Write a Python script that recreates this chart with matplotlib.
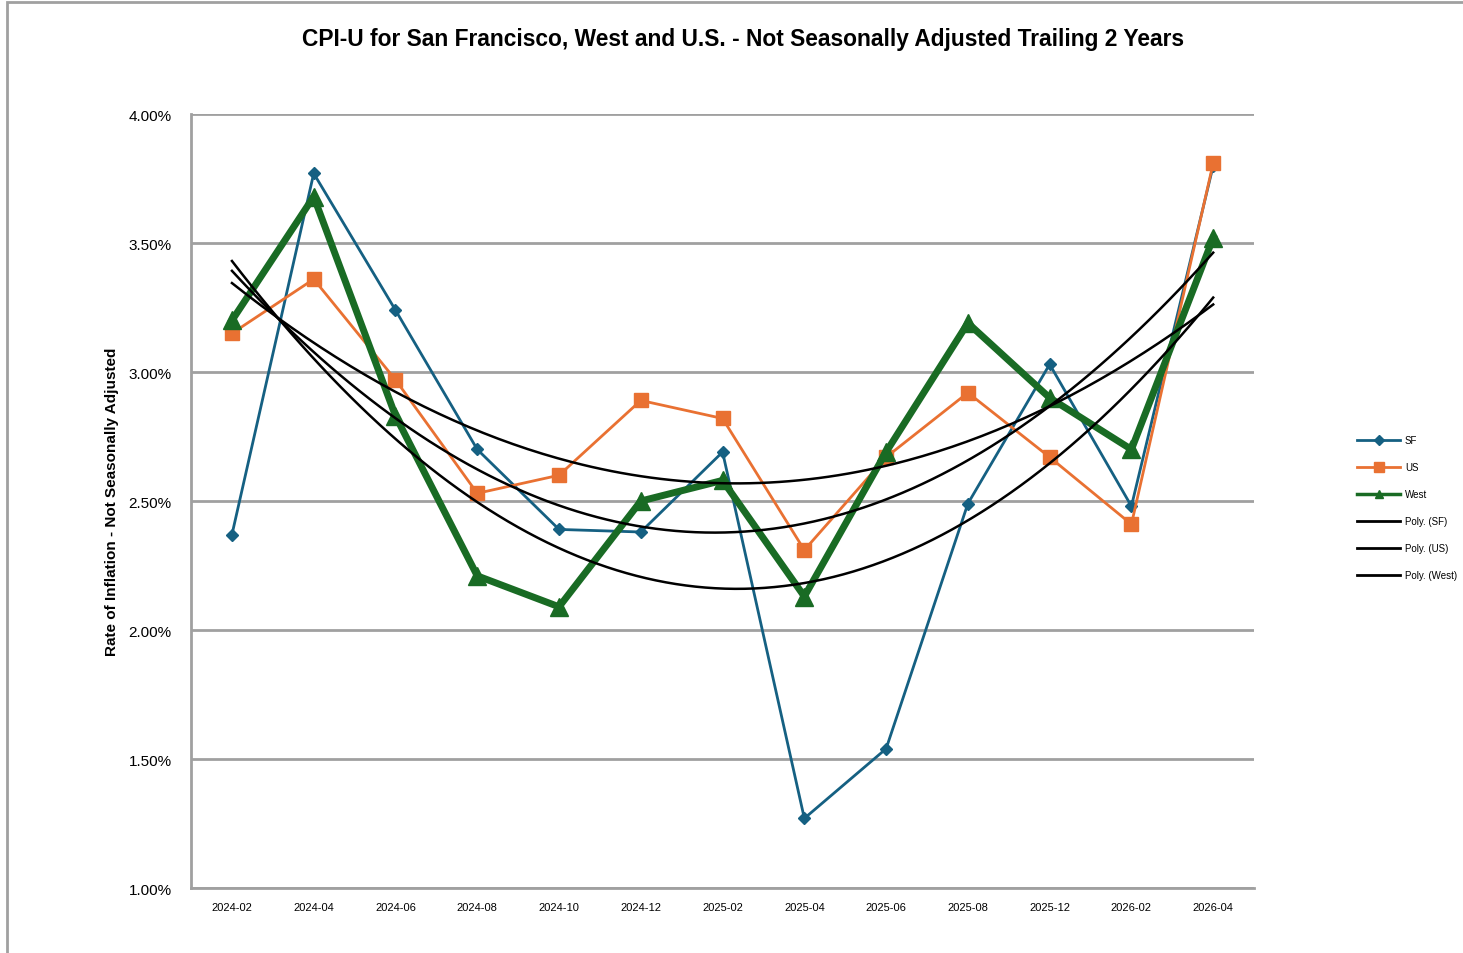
import numpy as np
import matplotlib
matplotlib.use("Agg")
import matplotlib.pyplot as plt
from matplotlib.lines import Line2D
from matplotlib.patches import Rectangle
from matplotlib.ticker import FuncFormatter

months = ["2024-02", "2024-04", "2024-06", "2024-08", "2024-10", "2024-12", "2025-02",
          "2025-04", "2025-06", "2025-08", "2025-12", "2026-02", "2026-04"]
sf = [2.37, 3.77, 3.24, 2.70, 2.39, 2.38, 2.69, 1.27, 1.54, 2.49, 3.03, 2.48, 3.80]
us = [3.15, 3.36, 2.97, 2.53, 2.60, 2.89, 2.82, 2.31, 2.67, 2.92, 2.67, 2.41, 3.81]
west = [3.20, 3.68, 2.83, 2.21, 2.09, 2.50, 2.58, 2.13, 2.69, 3.19, 2.90, 2.70, 3.52]

C_SF = "#156082"
C_US = "#E97132"
C_WEST = "#196B24"
GRID = "#A0A0A0"

plt.rcParams["font.family"] = ["Liberation Sans", "DejaVu Sans"]

fig = plt.figure(figsize=(14.63, 9.54), dpi=100)
ax = fig.add_axes([0.1306, 0.0681, 0.7266, 0.8113])

x = np.arange(len(months))

ax.plot(x, sf, color=C_SF, lw=2, marker="D", ms=6.5, zorder=3)
ax.plot(x, us, color=C_US, lw=2, marker="s", ms=9.5, zorder=4)
ax.plot(x, west, color=C_WEST, lw=5, marker="^", ms=13, zorder=5)

# polynomial (order 2) trendlines like Excel
xs = np.linspace(0, 12, 200)
for series in (sf, us, west):
    coef = np.polyfit(x, series, 2)
    ax.plot(xs, np.polyval(coef, xs), color="black", lw=1.8, zorder=6)

ax.set_xlim(-0.5, 12.5)
ax.set_ylim(1.0, 4.0)
ax.set_xticks(x)
ax.set_xticklabels(months, fontsize=8)
ax.set_yticks(np.arange(1.0, 4.01, 0.5))
ax.yaxis.set_major_formatter(FuncFormatter(lambda v, p: f"{v:.2f}%"))
ax.tick_params(axis="y", labelsize=11, length=0, pad=14)
ax.tick_params(axis="x", length=0, pad=10)
ax.grid(axis="y", color=GRID, lw=2)
ax.set_axisbelow(True)
for side in ("top", "right"):
    ax.spines[side].set_visible(False)
for side in ("left", "bottom"):
    ax.spines[side].set_color(GRID)
    ax.spines[side].set_linewidth(2)

ax.set_ylabel("Rate of Inflation - Not Seasonally Adjusted", fontsize=11,
              fontweight="bold", labelpad=7)

fig.text(0.508, 0.959, "CPI-U for San Francisco, West and U.S. - Not Seasonally Adjusted Trailing 2 Years",
         ha="center", va="center", fontsize=16.4, fontweight="bold")

handles = [
    Line2D([], [], color=C_SF, lw=2, marker="D", ms=5),
    Line2D([], [], color=C_US, lw=2, marker="s", ms=6.5),
    Line2D([], [], color=C_WEST, lw=2.5, marker="^", ms=6),
    Line2D([], [], color="black", lw=2),
    Line2D([], [], color="black", lw=2),
    Line2D([], [], color="black", lw=2),
]
labels = ["SF", "US", "West", "Poly. (SF)", "Poly. (US)", "Poly. (West)"]
fig.legend(handles, labels, loc="center left", bbox_to_anchor=(0.925, 0.467),
           frameon=False, fontsize=7, handlelength=4.4, handletextpad=0.5,
           labelspacing=1.75, borderaxespad=0)

# chart area border (cropped on right and bottom)
fig.patches.append(Rectangle((0.0045, -0.05), 1.1, 1.047, transform=fig.transFigure,
                             fill=False, edgecolor="#A0A0A0", lw=2))

fig.savefig("out.png", dpi=100)
